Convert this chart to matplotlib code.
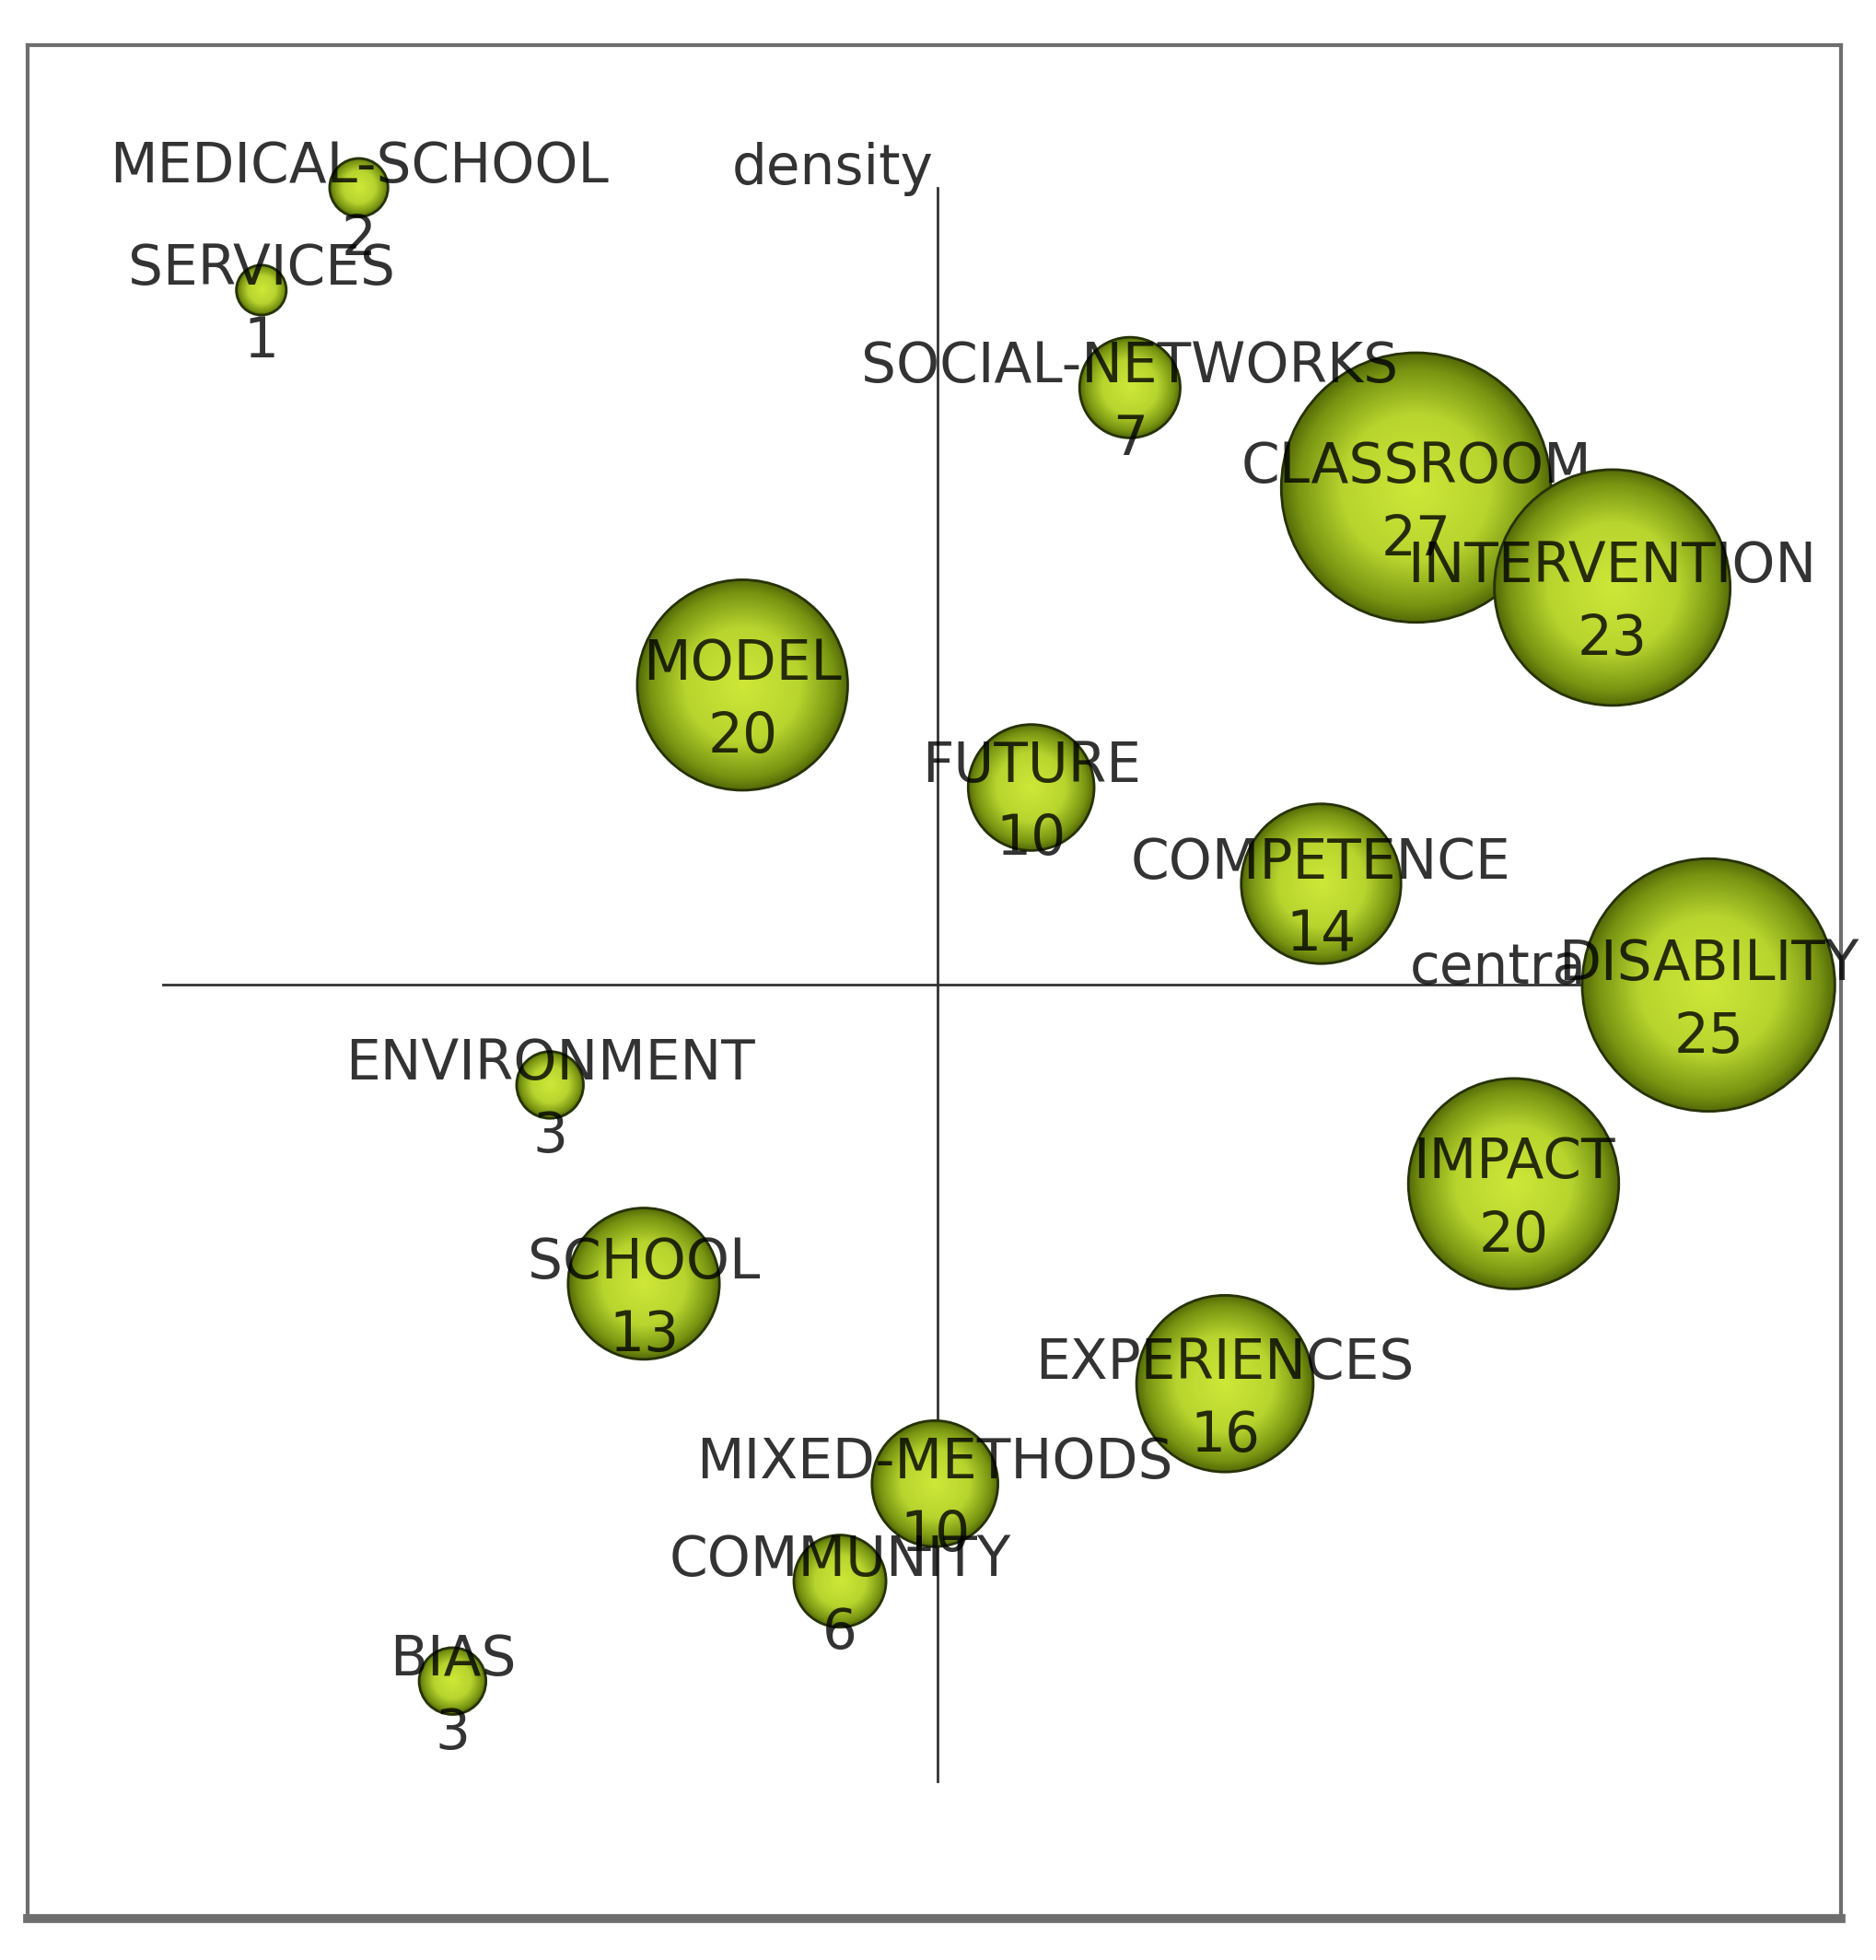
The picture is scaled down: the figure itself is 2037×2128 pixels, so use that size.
import numpy as np
import matplotlib
matplotlib.use('Agg')
import matplotlib.pyplot as plt
from matplotlib.patches import Circle
from matplotlib.colors import LinearSegmentedColormap

# strategic diagram data
themes = ['MEDICAL-SCHOOL', 'SERVICES', 'CLASSROOM', 'SOCIAL-NETWORKS', 'INTERVENTION',
          'MODEL', 'FUTURE', 'COMPETENCE', 'DISABILITY', 'ENVIRONMENT', 'IMPACT',
          'SCHOOL', 'EXPERIENCES', 'MIXED-METHODS', 'COMMUNITY', 'BIAS']
docs = [2, 1, 27, 7, 23, 20, 10, 14, 25, 3, 20, 13, 16, 10, 6, 3]
centrality = [-4.63, -5.41, 3.83, 1.54, 5.40, -1.56, 0.75, 3.07, 6.17, -3.10, 4.61,
              -2.35, 2.30, -0.02, -0.78, -3.88]
density = [6.38, 5.56, 3.98, 4.78, 3.18, 2.40, 1.58, 0.81, 0.00, -0.80, -1.59,
           -2.39, -3.19, -3.99, -4.77, -5.57]

fig = plt.figure(figsize=(20.37, 21.28), dpi=100)
ax = fig.add_axes([30/2037, 45/2128, 1969/2037, 2034/2128])
ax.set_xticks([])
ax.set_yticks([])
for s in ax.spines.values():
    s.set_color('#6e6e6e')
    s.set_linewidth(3)
ax.spines['bottom'].set_linewidth(7)

# axes cross
ax.plot([-6.2, 6.2], [0, 0], color='#333333', lw=2, zorder=1)
ax.plot([0, 0], [-6.37, 6.38], color='#333333', lw=2, zorder=1)
ax.text(-0.03, 6.53, 'density', ha='right', va='center', fontsize=43,
        color='black', alpha=0.8, zorder=1)
ax.text(3.78, 0.13, 'centrality', ha='left', va='center', fontsize=43,
        color='black', alpha=0.8, zorder=1)

cmap = LinearSegmentedColormap.from_list('bub', [
    (0.0, (0.81, 0.91, 0.22)),
    (0.55, (0.72, 0.83, 0.18)),
    (0.88, (0.47, 0.58, 0.07)),
    (1.0, (0.33, 0.42, 0.03))])
yy, xx = np.mgrid[-1:1:200j, -1:1:200j]
grad = np.clip(np.sqrt(xx**2 + yy**2), 0, 1)

for i, (name, n, cx, cy) in enumerate(zip(themes, docs, centrality, density)):
    r = 0.166 + 0.0338 * n
    z = 2 + i * 3
    circ = Circle((cx, cy), r, facecolor='none', edgecolor='#263204', lw=2, zorder=z + 1)
    ax.add_patch(circ)
    im = ax.imshow(grad, cmap=cmap, vmin=0, vmax=1, extent=[cx - r, cx + r, cy - r, cy + r],
                   aspect='auto', zorder=z, interpolation='bilinear')
    im.set_clip_path(circ)
    ax.annotate(name, (cx, cy), xytext=(0, 16), textcoords='offset points', ha='center',
                va='center', fontsize=43, color='black', alpha=0.8, zorder=z + 2)
    ax.annotate(str(n), (cx, cy), xytext=(0, -41), textcoords='offset points', ha='center',
                va='center', fontsize=43, color='black', alpha=0.8, zorder=z + 2)

ax.set_xlim(-7.28, 7.23)
ax.set_ylim(-7.47, 7.52)
fig.savefig('out.png', dpi=100, facecolor='white')
